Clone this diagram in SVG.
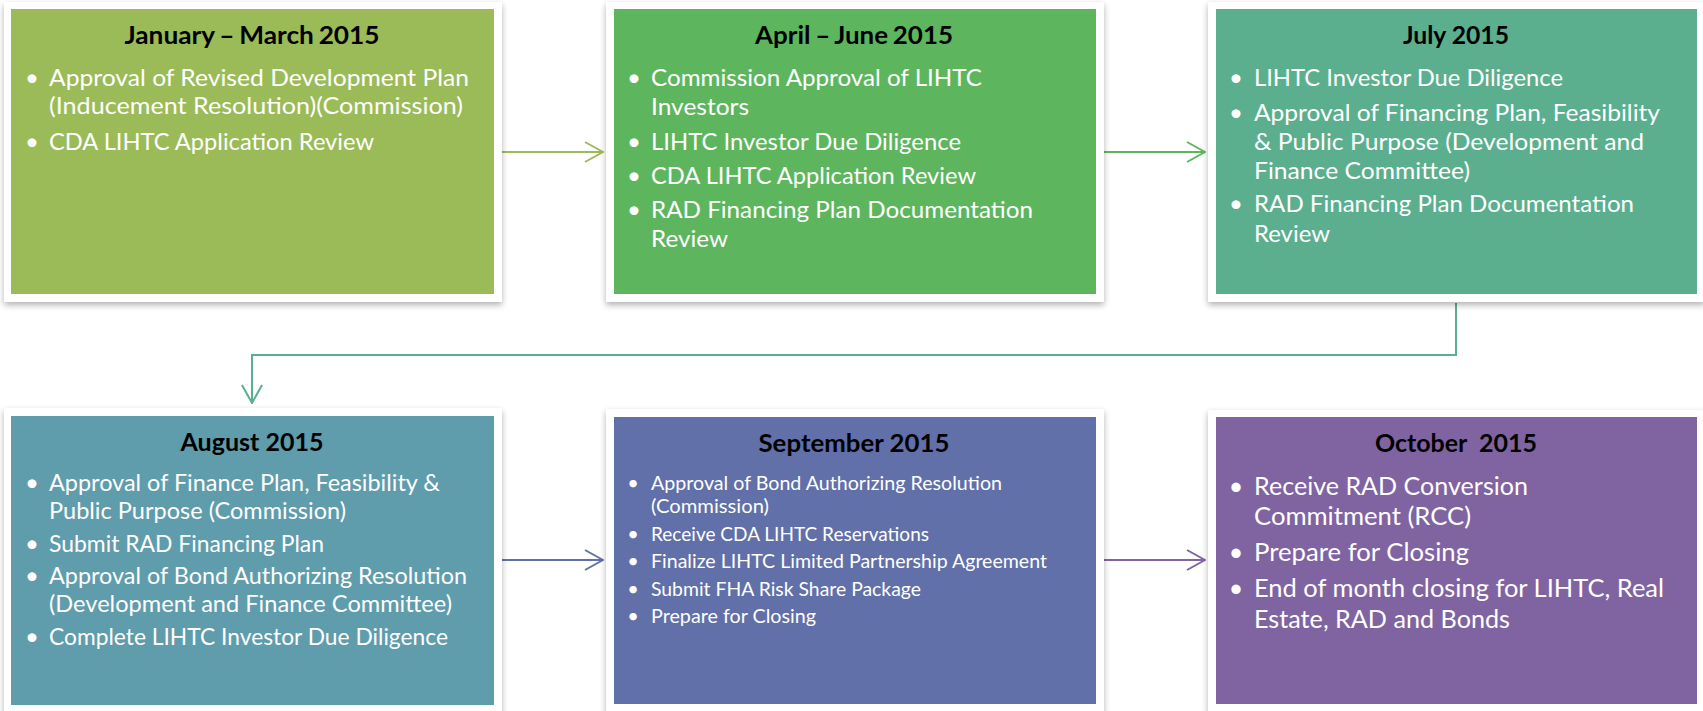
<svg xmlns="http://www.w3.org/2000/svg" width="1703" height="711" viewBox="0 0 1703 711">
  <style>
    .frame { fill: #ffffff; filter: url(#shadow); }
    .title { font-family: Lato, "Liberation Sans", sans-serif; font-weight: bold; font-size: 25px; fill: #000000; text-anchor: middle; white-space: pre; }
    .tight { word-spacing: -1.5px; }
    .body { font-family: Lato, "Liberation Sans", sans-serif; font-size: 24px; fill: #ffffff; }
    .small { font-size: 20px; }
    .large { font-size: 25px; }
    .dot { text-anchor: middle; }
    .link { fill: none; stroke-width: 2; }
  </style>
  <defs>
    <filter id="shadow" x="-5%" y="-5%" width="110%" height="115%">
      <feDropShadow dx="0" dy="3" stdDeviation="3" flood-color="#000000" flood-opacity="0.3"/>
    </filter>
    <marker id="head-olive" viewBox="0 0 20 22" refX="19" refY="11" markerWidth="20" markerHeight="22" markerUnits="userSpaceOnUse" orient="auto">
      <path d="M1,1 L19,11 L1,21" fill="none" stroke="#9BBB59" stroke-width="2"/>
    </marker>
    <marker id="head-green" viewBox="0 0 20 22" refX="19" refY="11" markerWidth="20" markerHeight="22" markerUnits="userSpaceOnUse" orient="auto">
      <path d="M1,1 L19,11 L1,21" fill="none" stroke="#5DB65E" stroke-width="2"/>
    </marker>
    <marker id="head-teal" viewBox="0 0 20 22" refX="19" refY="11" markerWidth="20" markerHeight="22" markerUnits="userSpaceOnUse" orient="auto">
      <path d="M1,1 L19,11 L1,21" fill="none" stroke="#5BAF8F" stroke-width="2"/>
    </marker>
    <marker id="head-blue" viewBox="0 0 20 22" refX="19" refY="11" markerWidth="20" markerHeight="22" markerUnits="userSpaceOnUse" orient="auto">
      <path d="M1,1 L19,11 L1,21" fill="none" stroke="#6170A8" stroke-width="2"/>
    </marker>
    <marker id="head-purple" viewBox="0 0 20 22" refX="19" refY="11" markerWidth="20" markerHeight="22" markerUnits="userSpaceOnUse" orient="auto">
      <path d="M1,1 L19,11 L1,21" fill="none" stroke="#8064A2" stroke-width="2"/>
    </marker>
  </defs>

  <rect width="1703" height="711" fill="#ffffff"/>

  <!-- connectors -->
  <g id="connectors">
    <path class="link" d="M502,152 H603" stroke="#9BBB59" marker-end="url(#head-olive)"/>
    <path class="link" d="M1104,152 H1205" stroke="#5DB65E" marker-end="url(#head-green)"/>
    <path class="link" d="M1456,303 V355 H252 V403" stroke="#5BAF8F" marker-end="url(#head-teal)"/>
    <path class="link" d="M502,560 H603" stroke="#6170A8" marker-end="url(#head-blue)"/>
    <path class="link" d="M1104,560 H1205" stroke="#8064A2" marker-end="url(#head-purple)"/>
  </g>

  <!-- January – March -->
  <g id="jan-mar">
    <rect class="frame" x="4" y="2" width="498" height="300"/>
    <rect x="11" y="9" width="483" height="285" fill="#9BBB59"/>
    <text class="title tight" x="252" y="44" textLength="255" lengthAdjust="spacingAndGlyphs">January – March 2015</text>
    <text class="body dot" x="32" y="86">•</text>
    <text class="body" x="49" y="86" textLength="420" lengthAdjust="spacingAndGlyphs">Approval of Revised Development Plan</text>
    <text class="body" x="49" y="114" textLength="414" lengthAdjust="spacingAndGlyphs">(Inducement Resolution)(Commission)</text>
    <text class="body dot" x="32" y="150">•</text>
    <text class="body" x="49" y="150" textLength="325" lengthAdjust="spacingAndGlyphs">CDA LIHTC Application Review</text>
  </g>

  <!-- April – June -->
  <g id="apr-jun">
    <rect class="frame" x="606" y="2" width="498" height="300"/>
    <rect x="614" y="9" width="482" height="285" fill="#5DB65E"/>
    <text class="title tight" x="854" y="44" textLength="198" lengthAdjust="spacingAndGlyphs">April – June 2015</text>
    <text class="body dot" x="634" y="86">•</text>
    <text class="body" x="651" y="86" textLength="331" lengthAdjust="spacingAndGlyphs">Commission Approval of LIHTC</text>
    <text class="body" x="651" y="115" textLength="98" lengthAdjust="spacingAndGlyphs">Investors</text>
    <text class="body dot" x="634" y="150">•</text>
    <text class="body" x="651" y="150" textLength="310" lengthAdjust="spacingAndGlyphs">LIHTC Investor Due Diligence</text>
    <text class="body dot" x="634" y="184">•</text>
    <text class="body" x="651" y="184" textLength="325" lengthAdjust="spacingAndGlyphs">CDA LIHTC Application Review</text>
    <text class="body dot" x="634" y="218">•</text>
    <text class="body" x="651" y="218" textLength="382" lengthAdjust="spacingAndGlyphs">RAD Financing Plan Documentation</text>
    <text class="body" x="651" y="247" textLength="77" lengthAdjust="spacingAndGlyphs">Review</text>
  </g>

  <!-- July -->
  <g id="jul">
    <rect class="frame" x="1208" y="2" width="497" height="300"/>
    <rect x="1216" y="9" width="481" height="285" fill="#5BAF8F"/>
    <text class="title" x="1456" y="44" textLength="106" lengthAdjust="spacingAndGlyphs">July 2015</text>
    <text class="body dot" x="1236" y="86">•</text>
    <text class="body" x="1254" y="86" textLength="309" lengthAdjust="spacingAndGlyphs">LIHTC Investor Due Diligence</text>
    <text class="body dot" x="1236" y="121">•</text>
    <text class="body" x="1254" y="121" textLength="406" lengthAdjust="spacingAndGlyphs">Approval of Financing Plan, Feasibility</text>
    <text class="body" x="1254" y="150" textLength="390" lengthAdjust="spacingAndGlyphs">&amp; Public Purpose (Development and</text>
    <text class="body" x="1254" y="179" textLength="216" lengthAdjust="spacingAndGlyphs">Finance Committee)</text>
    <text class="body dot" x="1236" y="212">•</text>
    <text class="body" x="1254" y="212" textLength="380" lengthAdjust="spacingAndGlyphs">RAD Financing Plan Documentation</text>
    <text class="body" x="1254" y="242" textLength="76" lengthAdjust="spacingAndGlyphs">Review</text>
  </g>

  <!-- August -->
  <g id="aug">
    <rect class="frame" x="4" y="408" width="498" height="306"/>
    <rect x="11" y="416" width="483" height="289" fill="#5F9CAC"/>
    <text class="title" x="252" y="451" textLength="143" lengthAdjust="spacingAndGlyphs">August 2015</text>
    <text class="body dot" x="32" y="491">•</text>
    <text class="body" x="49" y="491" textLength="391" lengthAdjust="spacingAndGlyphs">Approval of Finance Plan, Feasibility &amp;</text>
    <text class="body" x="49" y="519" textLength="297" lengthAdjust="spacingAndGlyphs">Public Purpose (Commission)</text>
    <text class="body dot" x="32" y="552">•</text>
    <text class="body" x="49" y="552" textLength="275" lengthAdjust="spacingAndGlyphs">Submit RAD Financing Plan</text>
    <text class="body dot" x="32" y="584">•</text>
    <text class="body" x="49" y="584" textLength="418" lengthAdjust="spacingAndGlyphs">Approval of Bond Authorizing Resolution</text>
    <text class="body" x="49" y="612" textLength="403" lengthAdjust="spacingAndGlyphs">(Development and Finance Committee)</text>
    <text class="body dot" x="32" y="645">•</text>
    <text class="body" x="49" y="645" textLength="399" lengthAdjust="spacingAndGlyphs">Complete LIHTC Investor Due Diligence</text>
  </g>

  <!-- September -->
  <g id="sep">
    <rect class="frame" x="606" y="409" width="498" height="305"/>
    <rect x="614" y="417" width="482" height="287" fill="#6170A8"/>
    <text class="title" x="854" y="452" textLength="191" lengthAdjust="spacingAndGlyphs">September 2015</text>
    <text class="body small dot" x="633" y="490">•</text>
    <text class="body small" x="651" y="490" textLength="351" lengthAdjust="spacingAndGlyphs">Approval of Bond Authorizing Resolution</text>
    <text class="body small" x="651" y="513" textLength="118" lengthAdjust="spacingAndGlyphs">(Commission)</text>
    <text class="body small dot" x="633" y="541">•</text>
    <text class="body small" x="651" y="541" textLength="278" lengthAdjust="spacingAndGlyphs">Receive CDA LIHTC Reservations</text>
    <text class="body small dot" x="633" y="568">•</text>
    <text class="body small" x="651" y="568" textLength="396" lengthAdjust="spacingAndGlyphs">Finalize LIHTC Limited Partnership Agreement</text>
    <text class="body small dot" x="633" y="596">•</text>
    <text class="body small" x="651" y="596" textLength="270" lengthAdjust="spacingAndGlyphs">Submit FHA Risk Share Package</text>
    <text class="body small dot" x="633" y="623">•</text>
    <text class="body small" x="651" y="623" textLength="165" lengthAdjust="spacingAndGlyphs">Prepare for Closing</text>
  </g>

  <!-- October -->
  <g id="oct">
    <rect class="frame" x="1208" y="410" width="497" height="304"/>
    <rect x="1216" y="417" width="481" height="287" fill="#8064A2"/>
    <text class="title" x="1456" y="452" textLength="162" lengthAdjust="spacingAndGlyphs">October  2015</text>
    <text class="body large dot" x="1236" y="495">•</text>
    <text class="body large" x="1254" y="495" textLength="274" lengthAdjust="spacingAndGlyphs">Receive RAD Conversion</text>
    <text class="body large" x="1254" y="525" textLength="217" lengthAdjust="spacingAndGlyphs">Commitment (RCC)</text>
    <text class="body large dot" x="1236" y="561">•</text>
    <text class="body large" x="1254" y="561" textLength="215" lengthAdjust="spacingAndGlyphs">Prepare for Closing</text>
    <text class="body large dot" x="1236" y="597">•</text>
    <text class="body large" x="1254" y="597" textLength="410" lengthAdjust="spacingAndGlyphs">End of month closing for LIHTC, Real</text>
    <text class="body large" x="1254" y="628" textLength="256" lengthAdjust="spacingAndGlyphs">Estate, RAD and Bonds</text>
  </g>
</svg>
